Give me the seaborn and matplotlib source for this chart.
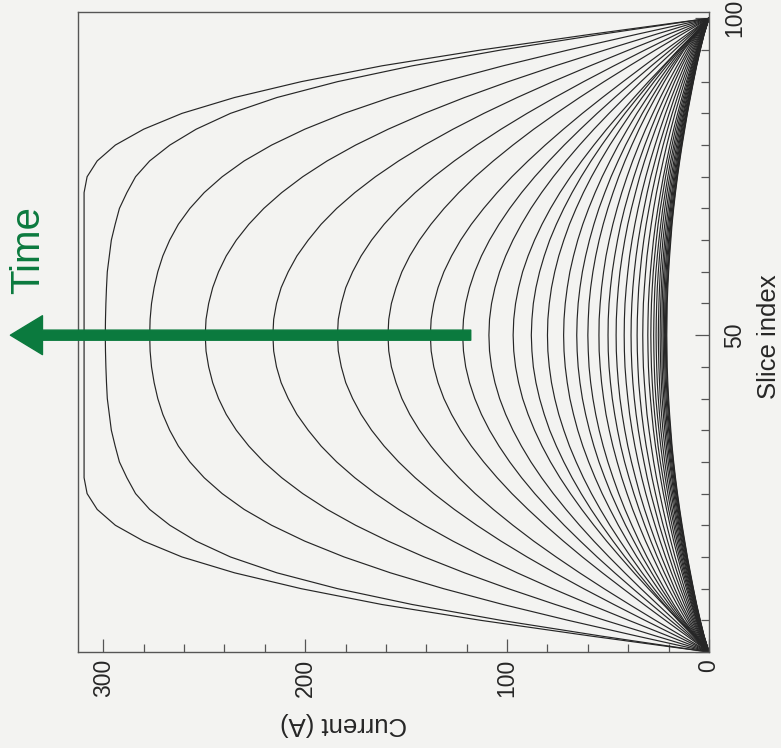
import pandas as pd
import matplotlib
matplotlib.use('Agg')
import matplotlib.pyplot as plt
from matplotlib.ticker import FixedLocator, FixedFormatter, MultipleLocator
import seaborn as sns

# scanned-page look
PAPER = '#f3f3f1'
INK = '#262626'
FRAME = '#555555'
TIME_GREEN = '#0b7a3e'

slice_index = [0, 2.5, 5, 7.5, 10, 12.5, 15, 17.5, 20, 22.5, 25, 27.5, 30, 32.5, 35, 37.5, 40, 42.5, 45, 47.5, 50,
               52.5, 55, 57.5, 60, 62.5, 65, 67.5, 70, 72.5, 75, 77.5, 80, 82.5, 85, 87.5, 90, 92.5, 95, 97.5, 100]

# current (A) per slice, one list per time step (latest first)
curve_01 = [0, 58, 113, 162, 202, 235, 261, 280, 294, 303, 308, 309.5, 309.5, 309.5, 309.5, 309.5, 309.5, 309.5, 309.5, 309.5, 309.5,
            309.5, 309.5, 309.5, 309.5, 309.5, 309.5, 309.5, 309.5, 309.5, 308, 303, 294, 280, 261, 235, 202, 162, 113, 58, 0]
curve_02 = [0, 53, 103, 147, 184, 214, 237, 254, 267, 277, 284, 288.3, 292, 294.1, 296, 297, 298, 298.4, 298.7, 298.9, 299,
            298.9, 298.7, 298.4, 298, 297, 296, 294.1, 292, 288.3, 284, 277, 267, 254, 237, 214, 184, 147, 103, 53, 0]
curve_03 = [0, 35.4, 69.7, 102, 131.5, 157.8, 180.7, 200.2, 216.6, 230.2, 241.1, 250, 257.1, 262.8, 267.1, 270.5, 273, 274.8, 276.1, 276.8, 277,
            276.8, 276.1, 274.8, 273, 270.5, 267.1, 262.8, 257.1, 250, 241.1, 230.2, 216.6, 200.2, 180.7, 157.8, 131.5, 102, 69.7, 35.4, 0]
curve_04 = [0, 26, 51.5, 76.1, 99.4, 121.1, 141, 158.9, 175, 189.1, 201.2, 211.6, 220.5, 227.9, 234.1, 239.1, 242.9, 245.8, 247.8, 249.1, 249.5,
            249.1, 247.8, 245.8, 242.9, 239.1, 234.1, 227.9, 220.5, 211.6, 201.2, 189.1, 175, 158.9, 141, 121.1, 99.4, 76.1, 51.5, 26, 0]
curve_05 = [0, 20, 39.7, 58.9, 77.4, 95, 111.5, 126.8, 140.9, 153.7, 165.2, 175.4, 184.4, 192.1, 198.5, 204.1, 208.4, 211.9, 214.2, 215.6, 216,
            215.6, 214.2, 211.9, 208.4, 204.1, 198.5, 192.1, 184.4, 175.4, 165.2, 153.7, 140.9, 126.8, 111.5, 95, 77.4, 58.9, 39.7, 20, 0]
curve_06 = [0, 15.9, 31.7, 47.1, 62.1, 76.4, 90.1, 103, 115, 126.1, 136.3, 145.5, 153.7, 160.9, 167.1, 172.3, 176.5, 179.9, 182.1, 183.6, 184,
            183.6, 182.1, 179.9, 176.5, 172.3, 167.1, 160.9, 153.7, 145.5, 136.3, 126.1, 115, 103, 90.1, 76.4, 62.1, 47.1, 31.7, 15.9, 0]
curve_07 = [0, 13.3, 26.5, 39.4, 52, 64.1, 75.7, 86.8, 97.1, 106.8, 115.8, 123.9, 131.2, 137.7, 143.4, 148.2, 152.1, 155, 157.3, 158.6, 159,
            158.6, 157.3, 155, 152.1, 148.2, 143.4, 137.7, 131.2, 123.9, 115.8, 106.8, 97.1, 86.8, 75.7, 64.1, 52, 39.4, 26.5, 13.3, 0]
curve_08 = [0, 10.8, 21.6, 32.2, 42.6, 52.8, 62.7, 72.1, 81.1, 89.6, 97.6, 104.9, 111.6, 117.7, 123, 127.5, 131.3, 134.2, 136.3, 137.6, 138,
            137.6, 136.3, 134.2, 131.3, 127.5, 123, 117.7, 111.6, 104.9, 97.6, 89.6, 81.1, 72.1, 62.7, 52.8, 42.6, 32.2, 21.6, 10.8, 0]
curve_09 = [0, 9.6, 19.1, 28.5, 37.7, 46.7, 55.4, 63.7, 71.7, 79.2, 86.3, 92.8, 98.7, 104, 108.7, 112.7, 116, 118.6, 120.5, 121.6, 122,
            121.6, 120.5, 118.6, 116, 112.7, 108.7, 104, 98.7, 92.8, 86.3, 79.2, 71.7, 63.7, 55.4, 46.7, 37.7, 28.5, 19.1, 9.6, 0]
curve_10 = [0, 8.6, 17, 25.4, 33.7, 41.7, 49.5, 57, 64.1, 70.8, 77.1, 82.9, 88.2, 92.9, 97.1, 100.7, 103.7, 106, 107.7, 108.7, 109,
            108.7, 107.7, 106, 103.7, 100.7, 97.1, 92.9, 88.2, 82.9, 77.1, 70.8, 64.1, 57, 49.5, 41.7, 33.7, 25.4, 17, 8.6, 0]
curve_11 = [0, 7.6, 15.2, 22.6, 30, 37.1, 44, 50.7, 57, 63, 68.6, 73.8, 78.5, 82.7, 86.4, 89.6, 92.3, 94.3, 95.8, 96.7, 97,
            96.7, 95.8, 94.3, 92.3, 89.6, 86.4, 82.7, 78.5, 73.8, 68.6, 63, 57, 50.7, 44, 37.1, 30, 22.6, 15.2, 7.6, 0]
curve_12 = [0, 7.4, 15.1, 22.1, 28.8, 35.3, 41.6, 47.5, 53.1, 58.4, 63.3, 67.8, 71.9, 75.6, 78.9, 81.6, 83.9, 85.7, 87, 87.7, 88,
            87.7, 87, 85.7, 83.9, 81.6, 78.9, 75.6, 71.9, 67.8, 63.3, 58.4, 53.1, 47.5, 41.6, 35.3, 28.8, 22.1, 15.1, 7.4, 0]
curve_13 = [0, 7.1, 14.5, 21, 27.2, 33.1, 38.7, 44, 49.1, 53.8, 58.2, 62.2, 65.8, 69.1, 71.9, 74.4, 76.4, 78, 79.1, 79.8, 80,
            79.8, 79.1, 78, 76.4, 74.4, 71.9, 69.1, 65.8, 62.2, 58.2, 53.8, 49.1, 44, 38.7, 33.1, 27.2, 21, 14.5, 7.1, 0]
curve_14 = [0, 6.9, 13.8, 19.7, 25.3, 30.6, 35.7, 40.4, 44.9, 49, 52.9, 56.4, 59.6, 62.5, 65, 67.1, 68.9, 70.2, 71.2, 71.8, 72,
            71.8, 71.2, 70.2, 68.9, 67.1, 65, 62.5, 59.6, 56.4, 52.9, 49, 44.9, 40.4, 35.7, 30.6, 25.3, 19.7, 13.8, 6.9, 0]
curve_15 = [0, 6.7, 13, 18.5, 23.6, 28.4, 33, 37.2, 41.3, 45, 48.5, 51.6, 54.5, 57, 59.2, 61.1, 62.7, 63.9, 64.8, 65.3, 65.5,
            65.3, 64.8, 63.9, 62.7, 61.1, 59.2, 57, 54.5, 51.6, 48.5, 45, 41.3, 37.2, 33, 28.4, 23.6, 18.5, 13, 6.7, 0]
curve_16 = [0, 6.4, 12.4, 17.4, 22.1, 26.5, 30.7, 34.6, 38.2, 41.6, 44.7, 47.5, 50.1, 52.4, 54.4, 56.1, 57.5, 58.6, 59.4, 59.8, 60,
            59.8, 59.4, 58.6, 57.5, 56.1, 54.4, 52.4, 50.1, 47.5, 44.7, 41.6, 38.2, 34.6, 30.7, 26.5, 22.1, 17.4, 12.4, 6.4, 0]
curve_17 = [0, 6.1, 11.3, 15.8, 20.1, 24.1, 27.8, 31.4, 34.7, 37.8, 40.6, 43.2, 45.5, 47.6, 49.4, 51, 52.2, 53.2, 53.9, 54.4, 54.5,
            54.4, 53.9, 53.2, 52.2, 51, 49.4, 47.6, 45.5, 43.2, 40.6, 37.8, 34.7, 31.4, 27.8, 24.1, 20.1, 15.8, 11.3, 6.1, 0]
curve_18 = [0, 5.8, 10.3, 14.5, 18.4, 22.1, 25.6, 28.8, 31.8, 34.6, 37.2, 39.6, 41.8, 43.7, 45.3, 46.7, 47.9, 48.8, 49.5, 49.9, 50,
            49.9, 49.5, 48.8, 47.9, 46.7, 45.3, 43.7, 41.8, 39.6, 37.2, 34.6, 31.8, 28.8, 25.6, 22.1, 18.4, 14.5, 10.3, 5.8, 0]
curve_19 = [0, 5.3, 9.5, 13.4, 17, 20.3, 23.5, 26.5, 29.3, 31.9, 34.3, 36.4, 38.4, 40.2, 41.7, 43, 44.1, 44.9, 45.5, 45.9, 46,
            45.9, 45.5, 44.9, 44.1, 43, 41.7, 40.2, 38.4, 36.4, 34.3, 31.9, 29.3, 26.5, 23.5, 20.3, 17, 13.4, 9.5, 5.3, 0]
curve_20 = [0, 4.8, 8.7, 12.2, 15.5, 18.6, 21.5, 24.2, 26.7, 29.1, 31.3, 33.3, 35.1, 36.7, 38.1, 39.3, 40.2, 41, 41.6, 41.9, 42,
            41.9, 41.6, 41, 40.2, 39.3, 38.1, 36.7, 35.1, 33.3, 31.3, 29.1, 26.7, 24.2, 21.5, 18.6, 15.5, 12.2, 8.7, 4.8, 0]
curve_21 = [0, 4.4, 8, 11.2, 14.2, 17.1, 19.7, 22.2, 24.6, 26.7, 28.8, 30.6, 32.2, 33.7, 35, 36.1, 37, 37.7, 38.2, 38.5, 38.6,
            38.5, 38.2, 37.7, 37, 36.1, 35, 33.7, 32.2, 30.6, 28.8, 26.7, 24.6, 22.2, 19.7, 17.1, 14.2, 11.2, 8, 4.4, 0]
curve_22 = [0, 4.1, 7.4, 10.3, 13.1, 15.7, 18.2, 20.5, 22.7, 24.7, 26.5, 28.2, 29.7, 31.1, 32.3, 33.3, 34.1, 34.8, 35.2, 35.5, 35.6,
            35.5, 35.2, 34.8, 34.1, 33.3, 32.3, 31.1, 29.7, 28.2, 26.5, 24.7, 22.7, 20.5, 18.2, 15.7, 13.1, 10.3, 7.4, 4.1, 0]
curve_23 = [0, 3.8, 6.8, 9.5, 12.1, 14.5, 16.8, 18.9, 20.9, 22.7, 24.4, 26, 27.4, 28.6, 29.7, 30.7, 31.4, 32, 32.5, 32.7, 32.8,
            32.7, 32.5, 32, 31.4, 30.7, 29.7, 28.6, 27.4, 26, 24.4, 22.7, 20.9, 18.9, 16.8, 14.5, 12.1, 9.5, 6.8, 3.8, 0]
curve_24 = [0, 3.5, 6.3, 8.8, 11.2, 13.4, 15.5, 17.5, 19.3, 21, 22.6, 24, 25.3, 26.5, 27.5, 28.3, 29, 29.6, 30, 30.2, 30.3,
            30.2, 30, 29.6, 29, 28.3, 27.5, 26.5, 25.3, 24, 22.6, 21, 19.3, 17.5, 15.5, 13.4, 11.2, 8.8, 6.3, 3.5, 0]
curve_25 = [0, 3.3, 6, 8.4, 10.6, 12.7, 14.7, 16.6, 18.3, 20, 21.5, 22.8, 24.1, 25.2, 26.1, 26.9, 27.6, 28.1, 28.5, 28.7, 28.8,
            28.7, 28.5, 28.1, 27.6, 26.9, 26.1, 25.2, 24.1, 22.8, 21.5, 20, 18.3, 16.6, 14.7, 12.7, 10.6, 8.4, 6, 3.3, 0]
curve_26 = [0, 3.2, 5.7, 8, 10.1, 12.1, 14, 15.8, 17.4, 19, 20.4, 21.7, 22.9, 23.9, 24.8, 25.6, 26.3, 26.8, 27.1, 27.3, 27.4,
            27.3, 27.1, 26.8, 26.3, 25.6, 24.8, 23.9, 22.9, 21.7, 20.4, 19, 17.4, 15.8, 14, 12.1, 10.1, 8, 5.7, 3.2, 0]
curve_27 = [0, 3, 5.4, 7.6, 9.7, 11.6, 13.4, 15.1, 16.7, 18.2, 19.5, 20.8, 21.9, 22.9, 23.8, 24.5, 25.1, 25.6, 25.9, 26.1, 26.2,
            26.1, 25.9, 25.6, 25.1, 24.5, 23.8, 22.9, 21.9, 20.8, 19.5, 18.2, 16.7, 15.1, 13.4, 11.6, 9.7, 7.6, 5.4, 3, 0]
curve_28 = [0, 2.9, 5.2, 7.3, 9.3, 11.1, 12.8, 14.5, 16, 17.4, 18.7, 19.9, 21, 21.9, 22.8, 23.5, 24.1, 24.5, 24.8, 25, 25.1,
            25, 24.8, 24.5, 24.1, 23.5, 22.8, 21.9, 21, 19.9, 18.7, 17.4, 16, 14.5, 12.8, 11.1, 9.3, 7.3, 5.2, 2.9, 0]
curve_29 = [0, 2.8, 5, 7, 8.9, 10.7, 12.4, 13.9, 15.4, 16.8, 18, 19.2, 20.2, 21.1, 21.9, 22.6, 23.2, 23.6, 23.9, 24.1, 24.2,
            24.1, 23.9, 23.6, 23.2, 22.6, 21.9, 21.1, 20.2, 19.2, 18, 16.8, 15.4, 13.9, 12.4, 10.7, 8.9, 7, 5, 2.8, 0]
curve_30 = [0, 2.7, 4.8, 6.8, 8.6, 10.3, 12, 13.5, 14.9, 16.2, 17.4, 18.5, 19.5, 20.4, 21.2, 21.9, 22.4, 22.9, 23.2, 23.3, 23.4,
            23.3, 23.2, 22.9, 22.4, 21.9, 21.2, 20.4, 19.5, 18.5, 17.4, 16.2, 14.9, 13.5, 12, 10.3, 8.6, 6.8, 4.8, 2.7, 0]
curve_31 = [0, 2.6, 4.7, 6.6, 8.4, 10, 11.6, 13.1, 14.5, 15.7, 16.9, 18, 19, 19.8, 20.6, 21.2, 21.8, 22.2, 22.5, 22.6, 22.7,
            22.6, 22.5, 22.2, 21.8, 21.2, 20.6, 19.8, 19, 18, 16.9, 15.7, 14.5, 13.1, 11.6, 10, 8.4, 6.6, 4.7, 2.6, 0]
curve_32 = [0, 2.5, 4.6, 6.4, 8.1, 9.8, 11.3, 12.7, 14.1, 15.3, 16.5, 17.5, 18.5, 19.3, 20, 20.7, 21.2, 21.6, 21.9, 22, 22.1,
            22, 21.9, 21.6, 21.2, 20.7, 20, 19.3, 18.5, 17.5, 16.5, 15.3, 14.1, 12.7, 11.3, 9.8, 8.1, 6.4, 4.6, 2.5, 0]
curve_33 = [0, 2.5, 4.5, 6.3, 8, 9.5, 11, 12.4, 13.8, 15, 16.1, 17.1, 18, 18.9, 19.6, 20.2, 20.7, 21.1, 21.4, 21.5, 21.6,
            21.5, 21.4, 21.1, 20.7, 20.2, 19.6, 18.9, 18, 17.1, 16.1, 15, 13.8, 12.4, 11, 9.5, 8, 6.3, 4.5, 2.5, 0]
curve_34 = [0, 2.4, 4.4, 6.2, 7.8, 9.4, 10.8, 12.2, 13.5, 14.7, 15.8, 16.8, 17.7, 18.5, 19.2, 19.8, 20.3, 20.7, 21, 21.1, 21.2,
            21.1, 21, 20.7, 20.3, 19.8, 19.2, 18.5, 17.7, 16.8, 15.8, 14.7, 13.5, 12.2, 10.8, 9.4, 7.8, 6.2, 4.4, 2.4, 0]
curve_35 = [0, 2.4, 4.3, 6.1, 7.7, 9.2, 10.7, 12, 13.3, 14.5, 15.6, 16.6, 17.5, 18.3, 18.9, 19.5, 20, 20.4, 20.7, 20.8, 20.9,
            20.8, 20.7, 20.4, 20, 19.5, 18.9, 18.3, 17.5, 16.6, 15.6, 14.5, 13.3, 12, 10.7, 9.2, 7.7, 6.1, 4.3, 2.4, 0]

curves = [curve_01, curve_02, curve_03, curve_04, curve_05, curve_06, curve_07,
          curve_08, curve_09, curve_10, curve_11, curve_12, curve_13, curve_14,
          curve_15, curve_16, curve_17, curve_18, curve_19, curve_20, curve_21,
          curve_22, curve_23, curve_24, curve_25, curve_26, curve_27, curve_28,
          curve_29, curve_30, curve_31, curve_32, curve_33, curve_34, curve_35]

current_ticks = [0, 100, 200, 300]
slice_ticks = [0, 50, 100]
slice_tick_labels = ['', '50', '100']

# long table for seaborn
rows = []
for k, cur in enumerate(curves):
    for s, i in zip(slice_index, cur):
        rows.append({'step': k, 'slice': s, 'current': i})
df = pd.DataFrame(rows)

sns.set_style('ticks')
plt.rcParams['font.family'] = ['Liberation Sans', 'DejaVu Sans']

# the page is printed sideways: current runs right-to-left along the bottom,
# slice index runs up the right-hand side
fig = plt.figure(figsize=(7.81, 7.48), dpi=100, facecolor=PAPER)
ax = fig.add_axes([0.0999, 0.1283, 0.8079, 0.8557])
ax.set_facecolor(PAPER)

sns.lineplot(data=df, x='current', y='slice', units='step', estimator=None,
             sort=False, color=INK, lw=0.85, ax=ax)

ax.set_xlim(312.5, 0)
ax.set_ylim(0, 101)

for sp in ax.spines.values():
    sp.set_visible(True)
    sp.set_color(FRAME)
    sp.set_linewidth(1.0)

# current axis (bottom)
ax.xaxis.set_major_locator(FixedLocator(current_ticks))
ax.xaxis.set_minor_locator(MultipleLocator(20))
ax.tick_params(axis='x', which='both', direction='in', bottom=True, top=False,
               labelrotation=90, labelsize=16.5, pad=5, color=FRAME, width=0.9)
ax.tick_params(axis='x', which='major', length=9.5)
ax.tick_params(axis='x', which='minor', length=5.5)

# slice axis (right)
ax.yaxis.tick_right()
ax.yaxis.set_major_locator(FixedLocator(slice_ticks))
ax.yaxis.set_major_formatter(FixedFormatter(slice_tick_labels))
ax.yaxis.set_minor_locator(MultipleLocator(5))
ax.tick_params(axis='y', which='both', direction='in', left=False, right=True,
               labelleft=False, labelright=True, labelrotation=90,
               labelsize=16.5, pad=10, color=FRAME, width=0.9)
ax.tick_params(axis='y', which='major', length=10)
ax.tick_params(axis='y', which='minor', length=6)
plt.setp(ax.get_yticklabels(), va='center')

ax.set_xlabel('Current (A)', rotation=180, fontsize=18.5)
ax.xaxis.set_label_coords(0.42, -0.094)
ax.yaxis.set_label_position('right')
ax.set_ylabel('Slice index', rotation=90, fontsize=18.5)
ax.yaxis.set_label_coords(1.076, 0.492)

# time arrow
ax.annotate('', xy=(346, 50), xytext=(118, 50), annotation_clip=False,
            arrowprops=dict(arrowstyle='simple,head_length=1.65,head_width=2.0,tail_width=0.52',
                            mutation_scale=14, color=TIME_GREEN, shrinkA=0, shrinkB=0))
ax.text(337, 63.4, 'Time', rotation=90, color=TIME_GREEN, fontsize=29,
        ha='center', va='center', clip_on=False)

fig.savefig('out.png', dpi=100, facecolor=PAPER)
